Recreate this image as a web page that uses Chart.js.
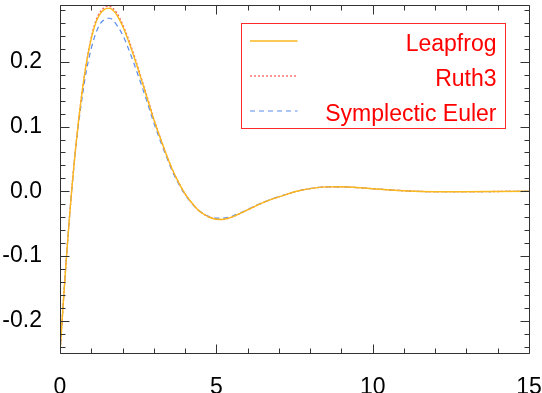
<!DOCTYPE html>
<html><head><meta charset="utf-8">
<script src="https://cdn.jsdelivr.net/npm/chart.js@4.4.1/dist/chart.umd.min.js"></script>
<style>html,body{margin:0;padding:0;background:#fff;}#wrap{width:542px;height:393px;}</style>
</head><body><div id="wrap"><canvas id="c" width="542" height="393"></canvas></div>
<script>
const times = [0,0.1,0.2,0.3,0.4,0.5,0.6,0.7,0.8,0.9,1.0,1.1,1.2,1.3,1.4,1.5,1.6,1.7,1.8,2.0,2.2,2.4,2.6,2.8,3.0,3.2,3.4,3.6,3.8,4.0,4.2,4.4,4.6,4.8,5.0,5.2,5.4,5.6,5.8,6.0,6.4,6.8,7.2,7.6,8.0,8.5,9.0,9.5,10,11,12,13,14,15];
const leapfrog = [-0.250,-0.176,-0.106,-0.042,0.016,0.067,0.112,0.151,0.185,0.213,0.236,0.254,0.267,0.2755,0.2805,0.2828,0.283,0.2795,0.274,0.2555,0.231,0.203,0.173,0.142,0.111,0.083,0.057,0.033,0.013,-0.004,-0.017,-0.028,-0.0355,-0.0405,-0.0432,-0.0435,-0.0415,-0.0378,-0.0335,-0.0287,-0.0195,-0.0118,-0.0055,0.0005,0.0042,0.0068,0.0070,0.0058,0.0040,0.0008,-0.0006,-0.0006,-0.0003,0.0];
const ruth3 = [-0.250,-0.176,-0.106,-0.042,0.016,0.067,0.112,0.151,0.185,0.214,0.238,0.257,0.270,0.2785,0.2835,0.2858,0.286,0.2825,0.277,0.2585,0.234,0.206,0.175,0.144,0.112,0.084,0.057,0.033,0.013,-0.004,-0.017,-0.028,-0.0355,-0.0405,-0.0432,-0.0435,-0.0415,-0.0378,-0.0335,-0.0287,-0.0195,-0.0118,-0.0055,0.0005,0.0042,0.0068,0.0070,0.0058,0.0040,0.0008,-0.0006,-0.0006,-0.0003,0.0];
const sympEuler = [-0.250,-0.176,-0.106,-0.042,0.015,0.064,0.106,0.142,0.174,0.200,0.221,0.238,0.251,0.260,0.265,0.2675,0.2675,0.264,0.258,0.242,0.219,0.193,0.165,0.136,0.106,0.079,0.054,0.030,0.011,-0.005,-0.018,-0.028,-0.035,-0.0395,-0.0415,-0.0415,-0.040,-0.0365,-0.0325,-0.028,-0.019,-0.0115,-0.0053,0.0006,0.0042,0.0067,0.0069,0.0057,0.0040,0.0008,-0.0006,-0.0006,-0.0003,0.0];
const seriesNames = ['Leapfrog','Ruth3','Symplectic Euler'];
const xTickValues = [0,5,10,15];
const yTickValues = [-0.2,-0.1,0.0,0.1,0.2];

const FONT = '"Liberation Sans", Arial, Helvetica, sans-serif';
const toPts = arr => times.map((t,i)=>({x:t,y:arr[i]}));

const innerTicks = {
  id:'innerTicks',
  afterDatasetsDraw(chart){
    const {ctx, chartArea:a, scales:{x,y}} = chart;
    ctx.save();
    ctx.strokeStyle = '#333';
    ctx.lineWidth = 1;
    const L = Math.round(a.left)+0.5, R = Math.round(a.right)+0.5, T = Math.round(a.top)+0.5, B = Math.round(a.bottom)+0.5;
    ctx.beginPath();
    ctx.rect(L, T, R-L, B-T);
    for (let v = x.min; v <= x.max + 1e-9; v += 1) {
      const px = Math.round(x.getPixelForValue(v))+0.5;
      const len = (Math.abs(v % 5) < 1e-9) ? 9 : 5;
      ctx.moveTo(px, B); ctx.lineTo(px, B-len);
      ctx.moveTo(px, T); ctx.lineTo(px, T+len);
    }
    for (let k = -12; k <= 14; k++) {
      const v = k*0.02;
      if (v < y.min || v > y.max) continue;
      const py = Math.round(y.getPixelForValue(v))+0.5;
      const len = (k % 5 === 0) ? 9 : 5;
      ctx.moveTo(L, py); ctx.lineTo(L+len, py);
      ctx.moveTo(R, py); ctx.lineTo(R-len, py);
    }
    ctx.stroke();
    ctx.restore();
  }
};

const boxLegend = {
  id:'boxLegend',
  afterDraw(chart){
    const {ctx, chartArea:a} = chart;
    const bx = Math.round(a.left)+181.5, by = Math.round(a.top)+18.5, bw = 264, bh = 105;
    ctx.save();
    ctx.strokeStyle = '#ff2a2a';
    ctx.lineWidth = 1;
    ctx.strokeRect(bx, by, bw, bh);
    ctx.font = '23px ' + FONT;
    ctx.textAlign = 'right';
    ctx.textBaseline = 'alphabetic';
    chart.data.datasets.forEach((ds,i)=>{
      const ly = by + 17.5 + i*35;
      ctx.beginPath();
      ctx.strokeStyle = ds.borderColor;
      ctx.lineWidth = ds.borderWidth;
      ctx.setLineDash(ds.borderDash || []);
      ctx.moveTo(bx+8.5, ly); ctx.lineTo(bx+56, ly);
      ctx.stroke();
      ctx.setLineDash([]);
      ctx.fillStyle = '#ff0000';
      ctx.fillText(ds.label, bx+255, by + 27 + i*35);
    });
    ctx.restore();
  }
};

new Chart(document.getElementById('c'), {
  type:'line',
  data:{
    datasets:[
      {label:seriesNames[0], data:toPts(leapfrog), borderColor:'rgb(250,185,30)', borderWidth:1.4, pointRadius:0, cubicInterpolationMode:'monotone', fill:false},
      {label:seriesNames[1], data:toPts(ruth3), borderColor:'rgb(240,95,95)', borderWidth:1.3, borderDash:[2,2], pointRadius:0, cubicInterpolationMode:'monotone', fill:false},
      {label:seriesNames[2], data:toPts(sympEuler), borderColor:'rgb(90,140,240)', borderWidth:1.2, borderDash:[5,4], pointRadius:0, cubicInterpolationMode:'monotone', fill:false}
    ]
  },
  options:{
    responsive:false, animation:false, devicePixelRatio:1,
    layout:{padding:{top:5, right:13, left:0, bottom:0}},
    plugins:{legend:{display:false}, tooltip:{enabled:false}},
    scales:{
      x:{type:'linear', min:0, max:15,
        afterBuildTicks(s){ s.ticks = xTickValues.map(v=>({value:v})); },
        afterFit(s){ s.height = 40; s.paddingLeft = 0; s.paddingRight = 0; },
        grid:{display:false}, border:{display:false},
        ticks:{color:'#000', font:{family:FONT, size:23}, padding:13, maxRotation:0, callback:v=>String(v)}
      },
      y:{type:'linear', min:-0.25, max:0.288,
        afterBuildTicks(s){ s.ticks = yTickValues.map(v=>({value:v})); },
        afterFit(s){ s.width = 60; s.paddingTop = 0; s.paddingBottom = 0; },
        grid:{display:false}, border:{display:false},
        ticks:{color:'#000', font:{family:FONT, size:23}, padding:10, callback:v=>Number(v).toFixed(1)}
      }
    }
  },
  plugins:[innerTicks, boxLegend]
});
</script>
</body></html>
